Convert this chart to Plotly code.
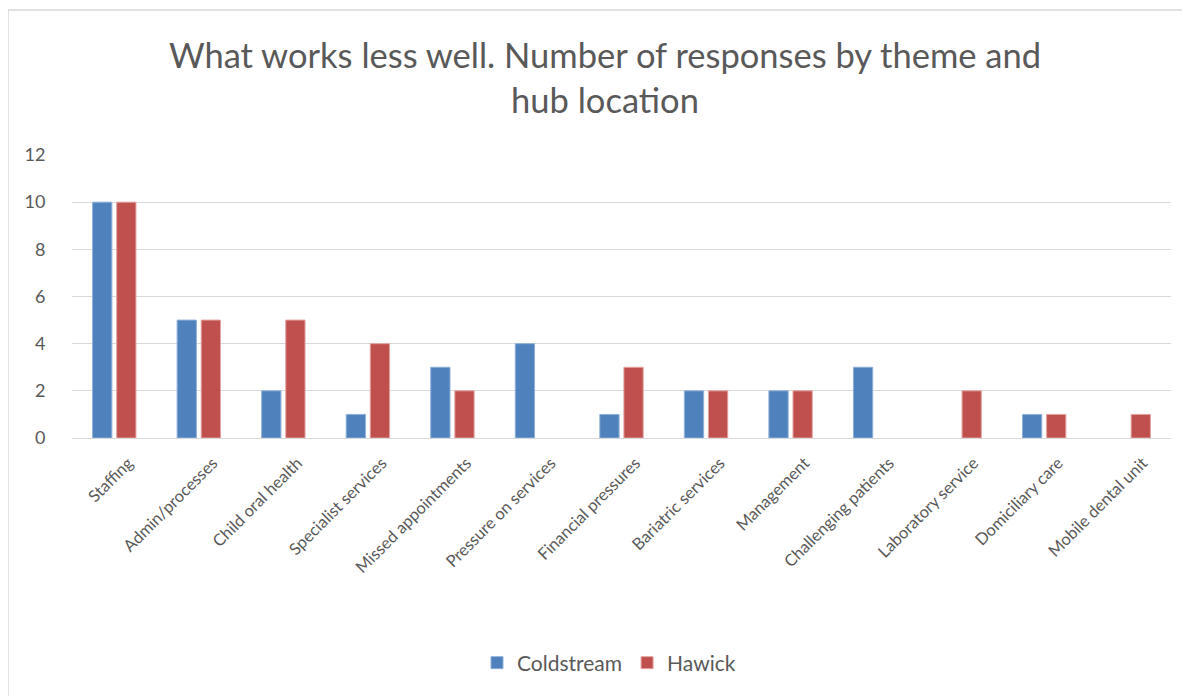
import plotly.graph_objects as go

categories = ["Staffing", "Admin/processes", "Child oral health", "Specialist services",
              "Missed appointments", "Pressure on services", "Financial pressures",
              "Bariatric services", "Management", "Challenging patients",
              "Laboratory service", "Domiciliary care", "Mobile dental unit"]
coldstream = [10, 5, 2, 1, 3, 4, 1, 2, 2, 3, 0, 1, 0]
hawick = [10, 5, 5, 4, 2, 0, 3, 2, 2, 0, 2, 1, 1]
y_ticks = [0, 2, 4, 6, 8, 10, 12]

# page has an 8px body margin; work in figure coords = screen - 8
OFF = 8
W, H = 1190 - OFF, 696 - OFF
L, R, T, B = 72 - OFF, 1171 - OFF, 155 - OFF, 438 - OFF

fig = go.Figure()
fig.add_trace(go.Bar(name="Coldstream", x=categories, y=[v if v else None for v in coldstream],
                     marker=dict(color="#4F81BD", line=dict(color="#8FB0DA", width=1))))
fig.add_trace(go.Bar(name="Hawick", x=categories, y=[v if v else None for v in hawick],
                     marker=dict(color="#C0504D", line=dict(color="#E3A3A1", width=1))))

font_family = "Lato, Open Sans, sans-serif"
gray = "#595959"

pw, ph = R - L, B - T
def px(x):  # x in screen coords
    return (x - OFF - L) / pw
def py(y):
    return (B - (y - OFF)) / ph

fig.update_layout(
    width=W, height=H,
    margin=dict(l=L, r=W - R, t=T, b=H - B, pad=0),
    paper_bgcolor="white", plot_bgcolor="white",
    barmode="group", bargap=0.43, bargroupgap=0.2,
    title=dict(text="What works less well. Number of responses by theme and<br>hub location",
               x=(605 - OFF) / W, xanchor="center", y=1 - 60 / H, yanchor="middle",
               font=dict(family=font_family, size=34.5, color=gray)),
    font=dict(family=font_family, color=gray),
    legend=dict(orientation="h", x=px(609), xanchor="center", y=py(663), yanchor="middle",
                font=dict(size=21, color=gray), itemwidth=30, traceorder="normal"),
    xaxis=dict(tickangle=-45, tickfont=dict(size=16.5, color=gray), showgrid=False,
               showline=True, linecolor="#D9D9D9", linewidth=1, ticks="",
               ticklabelshift=14, ticklabelstandoff=8),
    yaxis=dict(range=[0, 12], tickvals=y_ticks, tickfont=dict(size=18, color=gray),
               showgrid=True, gridcolor="#D9D9D9", gridwidth=1, zeroline=False,
               ticks="outside", ticklen=22, tickcolor="rgba(0,0,0,0)", showline=False),
    shapes=[dict(type="rect", xref="paper", yref="paper",
                 x0=px(8), x1=px(1220), y0=py(730), y1=py(10),
                 line=dict(color="#D9D9D9", width=1.5), layer="below")],
)

fig.write_html("out.html")
